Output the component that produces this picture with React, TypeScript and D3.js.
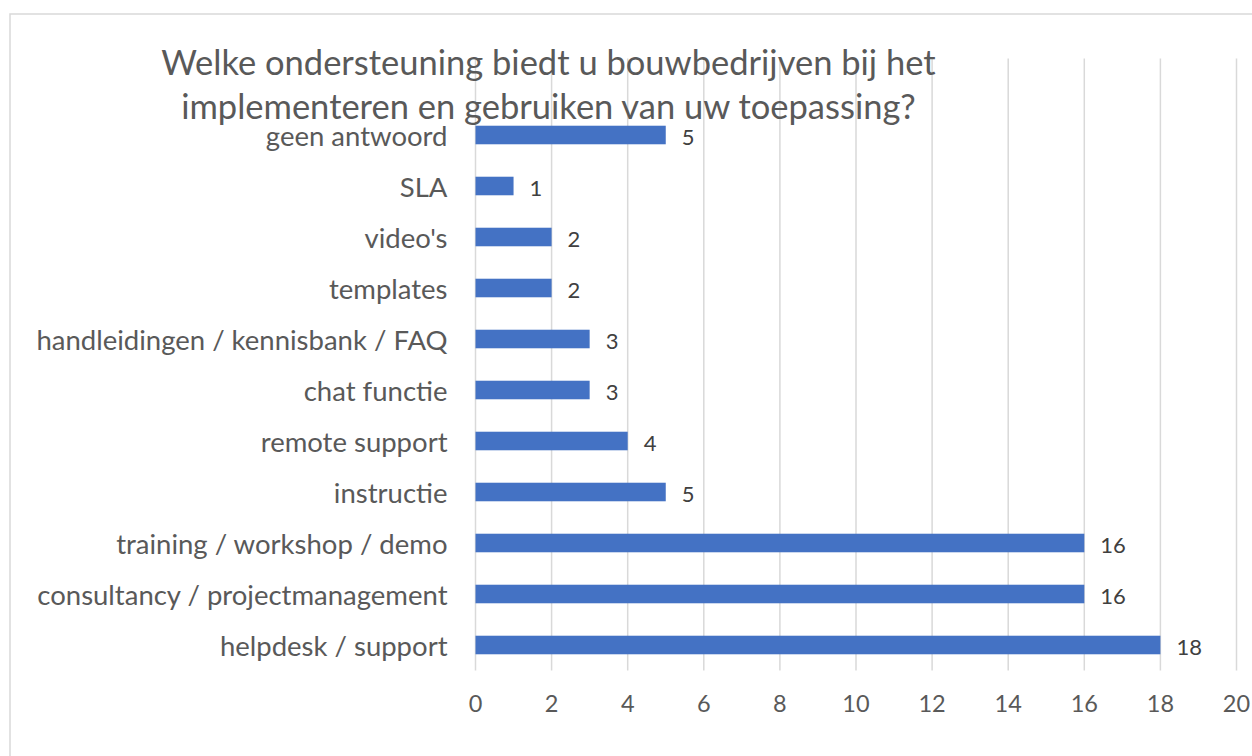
import React from "react";
import * as d3 from "d3";

const categories = [
  "geen antwoord",
  "SLA",
  "video's",
  "templates",
  "handleidingen / kennisbank / FAQ",
  "chat functie",
  "remote support",
  "instructie",
  "training / workshop / demo",
  "consultancy / projectmanagement",
  "helpdesk / support",
];
const values = [5, 1, 2, 2, 3, 3, 4, 5, 16, 16, 18];
const xTicks = [0, 2, 4, 6, 8, 10, 12, 14, 16, 18, 20];
const titleLines = [
  "Welke ondersteuning biedt u bouwbedrijven bij het",
  "implementeren en gebruiken van uw toepassing?",
];

const W = 1252;
const H = 756;
const FONT = "Lato, 'Open Sans', sans-serif";
const TEXT = "#595959";
const GRID = "#D9D9D9";
const BAR = "#4472C4";

export default function App() {
  const plotLeft = 475.5;
  const plotRight = 1236.5;
  const plotTop = 58.5;
  const plotBottom = 670.5;

  const x = d3.scaleLinear().domain([0, 20]).range([plotLeft, plotRight]);
  // one empty slot at the top of the category axis, as in the reference
  const slots = ["__blank__", ...categories];
  const y = d3
    .scaleBand<string>()
    .domain(slots)
    .range([plotTop, plotBottom])
    .paddingInner(0.636)
    .paddingOuter(0.318);

  return (
    <svg
      width={W}
      height={H}
      style={{ position: "absolute", left: 0, top: 0, background: "#fff" }}
    >
      <rect x={10} y={14} width={1300} height={800} fill="#fff" stroke={GRID} strokeWidth={1.5} />
      {xTicks.map((t) => (
        <line key={"g" + t} x1={x(t)} x2={x(t)} y1={plotTop} y2={plotBottom} stroke={GRID} strokeWidth={1.5} />
      ))}
      {categories.map((c, i) => (
        <rect
          key={"b" + c}
          x={x(0)}
          y={y(c)!}
          width={x(values[i]) - x(0)}
          height={y.bandwidth()}
          fill={BAR}
        />
      ))}
      {categories.map((c, i) => (
        <text
          key={"v" + c}
          x={x(values[i]) + 16}
          y={y(c)! + y.bandwidth() / 2 + 1}
          dominantBaseline="central"
          fontFamily={FONT}
          fontSize={22}
          fill="#404040"
        >
          {values[i]}
        </text>
      ))}
      {categories.map((c) => (
        <text
          key={"c" + c}
          x={447.5}
          y={y(c)! + y.bandwidth() / 2}
          dominantBaseline="central"
          textAnchor="end"
          fontFamily={FONT}
          fontSize={27.5}
          fill={TEXT}
        >
          {c}
        </text>
      ))}
      {xTicks.map((t) => (
        <text
          key={"t" + t}
          x={x(t)}
          y={703}
          dominantBaseline="central"
          textAnchor="middle"
          fontFamily={FONT}
          fontSize={23.5}
          fill={TEXT}
        >
          {t}
        </text>
      ))}
      {titleLines.map((l, i) => (
        <text
          key={"title" + i}
          x={548.5}
          y={75 + i * 44}
          textAnchor="middle"
          fontFamily={FONT}
          fontSize={34.5}
          fill={TEXT}
        >
          {l}
        </text>
      ))}
    </svg>
  );
}
